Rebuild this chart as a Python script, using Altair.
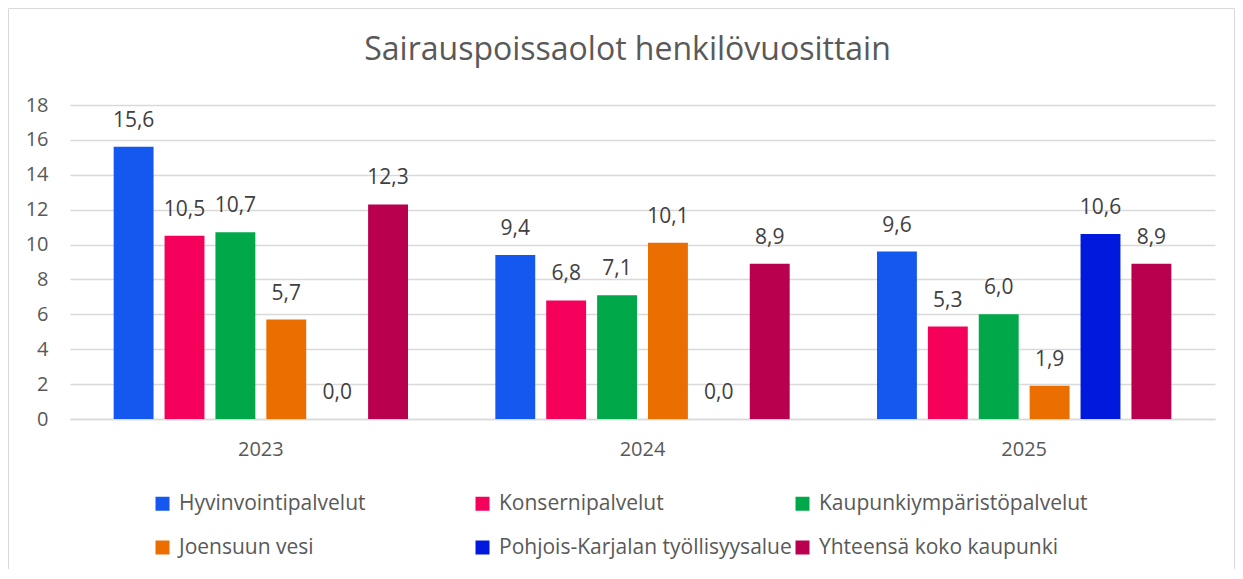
import altair as alt
import pandas as pd

years = ["2023", "2024", "2025"]
series = [
    "Hyvinvointipalvelut",
    "Konsernipalvelut",
    "Kaupunkiympäristöpalvelut",
    "Joensuun vesi",
    "Pohjois-Karjalan työllisyysalue",
    "Yhteensä koko kaupunki",
]
colors = ["#1558F0", "#F5005A", "#00A84A", "#EB6E00", "#0019DC", "#B8004E"]

hyvinvointi = [15.6, 9.4, 9.6]
konserni = [10.5, 6.8, 5.3]
kaupunkiymp = [10.7, 7.1, 6.0]
joensuun_vesi = [5.7, 10.1, 1.9]
pohjois_karjala = [0.0, 0.0, 10.6]
yhteensa = [12.3, 8.9, 8.9]
y_ticks = [0, 2, 4, 6, 8, 10, 12, 14, 16, 18]

all_values = [hyvinvointi, konserni, kaupunkiymp, joensuun_vesi, pohjois_karjala, yhteensa]
rows = []
for s, vals in zip(series, all_values):
    for y, v in zip(years, vals):
        rows.append({"year": y, "series": s, "value": v})
df = pd.DataFrame(rows)

FONT = "Open Sans"
GRID = "#D9D9D9"
TXT = "#595959"

base = alt.Chart(df).transform_calculate(
    label="replace(format(datum.value, '.1f'), '.', ',')"
)

x_enc = alt.X(
    "year:N",
    sort=years,
    scale=alt.Scale(paddingInner=0.2, paddingOuter=0.1),
    axis=alt.Axis(
        title=None, labelAngle=0, ticks=False, domain=True, domainColor=GRID,
        domainWidth=1.5, labelPadding=20, labelFontSize=20, labelColor=TXT,
        labelFont=FONT,
    ),
)
xoff_enc = alt.XOffset(
    "series:N", sort=series,
    scale=alt.Scale(paddingInner=0.216, paddingOuter=0.108),
)
y_enc = alt.Y(
    "value:Q",
    scale=alt.Scale(domain=[0, 18], nice=False),
    axis=alt.Axis(
        title=None, values=y_ticks, tickCount=10, labelOverlap=False,
        domain=False, ticks=False, grid=True,
        gridColor=GRID, gridWidth=1.5, labelPadding=22, labelFontSize=20,
        labelColor=TXT, labelFont=FONT,
    ),
)

bars = base.mark_bar().encode(
    x=x_enc,
    xOffset=xoff_enc,
    y=y_enc,
    color=alt.Color(
        "series:N",
        sort=series,
        scale=alt.Scale(domain=series, range=colors),
        legend=alt.Legend(
            title=None, orient="none", legendX=82, legendY=388, columns=3,
            direction="horizontal",
            gridAlign="all", columnPadding=0, rowPadding=22,
            symbolType="square", symbolSize=196, symbolStrokeWidth=0,
            labelFontSize=21, labelFont=FONT, labelColor=TXT, labelOffset=6,
            labelLimit=500,
        ),
    ),
)

labels = base.mark_text(
    dy=-26, fontSize=21, font=FONT, color="#404040"
).encode(
    x=x_enc,
    xOffset=xoff_enc,
    y=y_enc,
    text="label:N",
)

border = alt.Chart(pd.DataFrame({"b": [0]})).mark_rect(
    fillOpacity=0, stroke=GRID, strokeWidth=1
).encode(
    x=alt.value(-61.5), x2=alt.value(1164.5),
    y=alt.value(-96.5), y2=alt.value(465.5),
)

chart = alt.layer(border, bars, labels).properties(
    width=1145,
    height=314,
    title=alt.TitleParams(
        "Sairauspoissaolot henkilövuosittain",
        fontSize=32, font=FONT, fontWeight="normal", color=TXT,
        anchor="middle", offset=-59, dx=-15,
    ),
    autosize=alt.AutoSizeParams(type="none"),
    padding={"left": 62, "top": 97, "right": 20, "bottom": 150},
).configure_view(stroke=None)

chart.save("out.html", embed_options={"renderer": "svg", "actions": False})
